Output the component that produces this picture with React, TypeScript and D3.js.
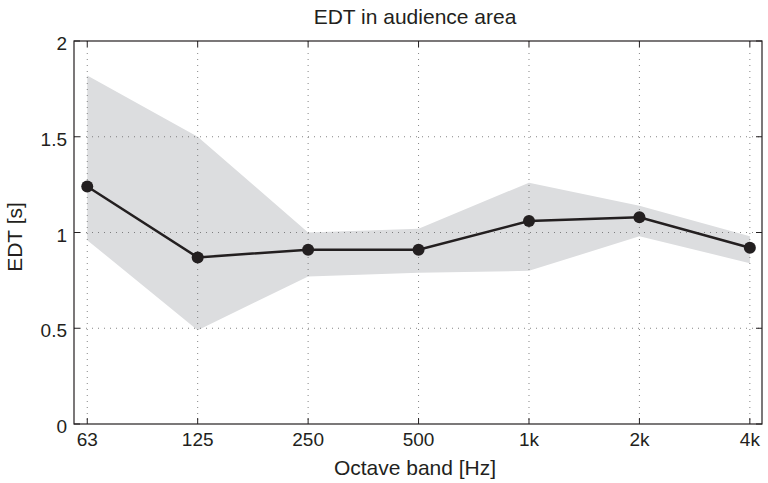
import React from "react";
import * as d3 from "d3";

const width = 768;
const height = 483;
const margin = { top: 41, right: 6, bottom: 59, left: 74 };

const bands = ["63", "125", "250", "500", "1k", "2k", "4k"];
const edtMean = [1.24, 0.87, 0.91, 0.91, 1.06, 1.08, 0.92];
const edtUpper = [1.82, 1.5, 1.0, 1.02, 1.26, 1.14, 0.98];
const edtLower = [0.96, 0.49, 0.77, 0.79, 0.8, 0.98, 0.84];
const yTicks = [0, 0.5, 1, 1.5, 2];

const font = "'Liberation Sans', Arial, Helvetica, sans-serif";
const ink = "#231f20";

export default function App() {
  const innerW = width - margin.left - margin.right;
  const innerH = height - margin.top - margin.bottom;

  const x = d3.scaleLinear().domain([-0.12, 6.11]).range([0, innerW]);
  const y = d3.scaleLinear().domain([0, 2]).range([innerH, 0]);

  const idx = bands.map((_, i) => i);

  const area = d3
    .area<number>()
    .x(i => x(i))
    .y0(i => y(edtLower[i]))
    .y1(i => y(edtUpper[i]));

  const line = d3
    .line<number>()
    .x(i => x(i))
    .y(i => y(edtMean[i]));

  return (
    <svg width={width} height={height} style={{ position: "absolute", left: 0, top: 0 }}>
      <rect width={width} height={height} fill="#fff" />
      <text x={415} y={24} textAnchor="middle" fontFamily={font} fontSize={21} fill={ink}>
        EDT in audience area
      </text>
      <g transform={`translate(${margin.left},${margin.top})`}>
        <path d={area(idx) ?? ""} fill="#dcdddf" />
        {/* grid */}
        {idx.map(i => (
          <line key={"gx" + i} x1={x(i)} x2={x(i)} y1={0} y2={innerH} stroke="#666" strokeWidth={0.8} strokeDasharray="1,5" />
        ))}
        {yTicks.slice(1, -1).map(t => (
          <line key={"gy" + t} x1={0} x2={innerW} y1={y(t)} y2={y(t)} stroke="#666" strokeWidth={0.8} strokeDasharray="1,5" />
        ))}
        <path d={line(idx) ?? ""} fill="none" stroke={ink} strokeWidth={2.5} />
        {idx.map(i => (
          <circle key={"c" + i} cx={x(i)} cy={y(edtMean[i])} r={6} fill={ink} />
        ))}
        {/* box */}
        <rect x={0} y={0} width={innerW} height={innerH} fill="none" stroke={ink} strokeWidth={1.2} />
        {/* ticks */}
        {idx.map(i => (
          <g key={"tx" + i}>
            <line x1={x(i)} x2={x(i)} y1={innerH} y2={innerH - 6} stroke={ink} strokeWidth={1} />
            <line x1={x(i)} x2={x(i)} y1={0} y2={6} stroke={ink} strokeWidth={1} />
            <text x={x(i)} y={innerH + 22} textAnchor="middle" fontFamily={font} fontSize={19} fill={ink}>
              {bands[i]}
            </text>
          </g>
        ))}
        {yTicks.map(t => (
          <g key={"ty" + t}>
            <line x1={0} x2={6} y1={y(t)} y2={y(t)} stroke={ink} strokeWidth={1} />
            <line x1={innerW} x2={innerW - 6} y1={y(t)} y2={y(t)} stroke={ink} strokeWidth={1} />
            <text x={-7} y={y(t) + 9} textAnchor="end" fontFamily={font} fontSize={19} fill={ink}>
              {t}
            </text>
          </g>
        ))}
        <text x={415 - margin.left} y={innerH + 51} textAnchor="middle" fontFamily={font} fontSize={21} fill={ink}>
          Octave band [Hz]
        </text>
        <text
          transform={`translate(${22 - margin.left},${237 - margin.top}) rotate(-90)`}
          textAnchor="middle"
          fontFamily={font}
          fontSize={21}
          fill={ink}
        >
          EDT [s]
        </text>
      </g>
    </svg>
  );
}
